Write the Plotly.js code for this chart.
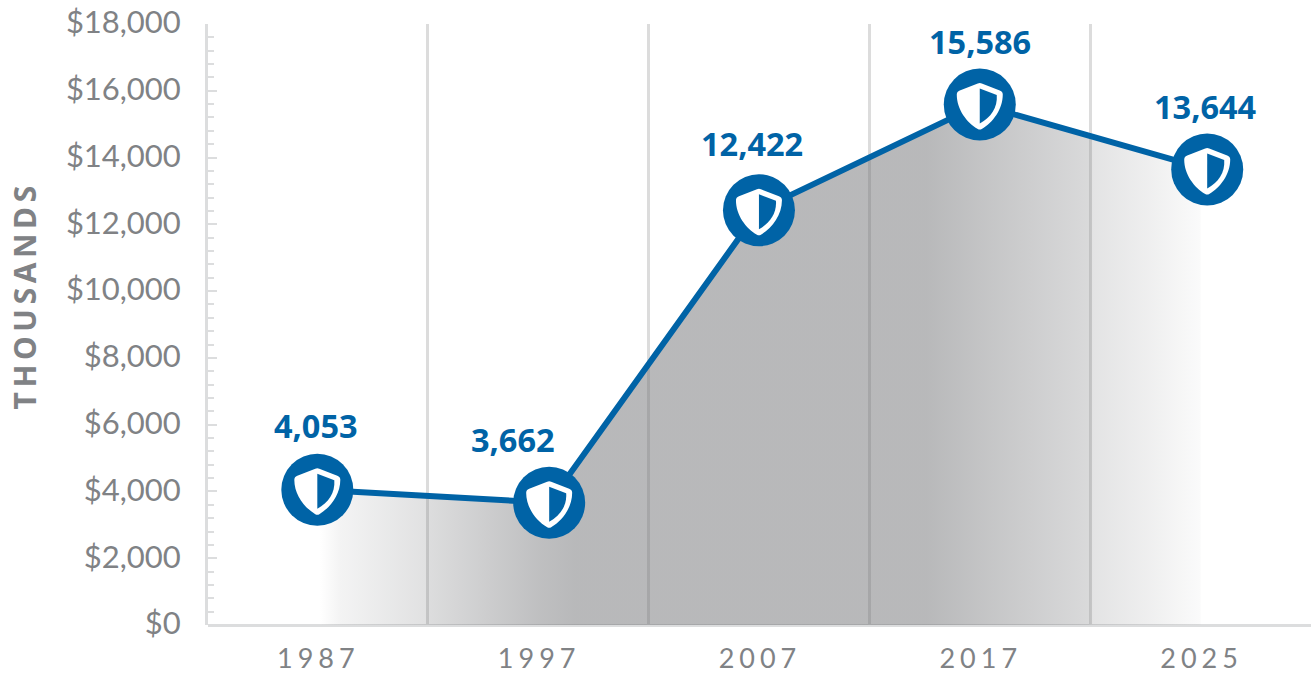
<!DOCTYPE html>
<html>
<head>
<meta charset="utf-8">
<script src="https://cdn.plot.ly/plotly-3.0.1.min.js"></script>
<style>
html,body{margin:0;padding:0;background:#fff;}
#chart{width:1312px;height:679px;}
.xtick text{letter-spacing:5px;translate:1px 0;}
.ytick text{translate:0 -1.5px;}
</style>
</head>
<body>
<div id="chart"></div>
<script>
const categories = ['1987','1997','2007','2017','2025'];
const values = [4053, 3662, 12422, 15586, 13644];
const categoryPos = [0, 1, 2, 3, 4];
const areaPos = [0, 1.05, 2, 3, 4];
const markerPos = [0, 1.05, 2, 3, 4.03];
const bandEdges = [0.5, 1.5, 2.5, 3.5, 4.5];
const yTicks = [0,2000,4000,6000,8000,10000,12000,14000,16000,18000];
const yTickLabels = yTicks.map(v => '$' + v.toLocaleString('en-US'));
const labelShiftX = [-1, -36, -7, 0, -2];
const labelShiftY = [64, 63, 67, 63, 63];

const BLUE = '#0063a6', GREY = '#808285', AXIS = '#dcddde';
const fillStops = [
  [0.003, 0], [0.026, 0.08], [0.094, 0.17], [0.122, 0.205], [0.128, 0.24],
  [0.252, 0.44], [0.292, 0.485], [0.69, 0.485], [0.765, 0.39],
  [0.873, 0.26], [0.878, 0.19], [0.943, 0.11], [1, 0.03]
];

const area = {
  x: areaPos, y: values, type: 'scatter', mode: 'none', fill: 'tozeroy',
  hoverinfo: 'skip', showlegend: false,
  fillgradient: {
    type: 'horizontal', start: 0, stop: 4,
    colorscale: fillStops.map(([p, a]) => [p, 'rgba(109,110,113,' + a + ')'])
  }
};
area.fillgradient.colorscale.unshift([0, 'rgba(109,110,113,0)']);

const line = {
  x: markerPos, y: values, type: 'scatter', mode: 'lines+markers',
  line: {color: BLUE, width: 6},
  marker: {color: BLUE, size: 72, line: {width: 0}},
  showlegend: false,
  hovertemplate: '%{y:,}<extra></extra>'
};

const shield = 'M-2,21 Q0,22 2,21 L20,14 Q23,13 23,10 C23,-5 13,-18 2,-24.5 Q0,-25.5 -2,-24.5 C-13,-18 -23,-5 -23,10 Q-23,13 -20,14 Z';
const shieldHalf = 'M0,16 L17,9.5 C18,-3 11,-13 0,-19 Z';

const shapes = [];
markerPos.forEach((x, i) => {
  [[shield, '#ffffff'], [shieldHalf, BLUE]].forEach(([path, color]) => {
    shapes.push({
      type: 'path', path, layer: 'above',
      xref: 'x', yref: 'y', xsizemode: 'pixel', ysizemode: 'pixel',
      xanchor: x, yanchor: values[i],
      fillcolor: color, line: {width: 0}
    });
  });
});

const annotations = values.map((v, i) => ({
  x: markerPos[i], y: v, xref: 'x', yref: 'y',
  text: v.toLocaleString('en-US'), showarrow: false,
  xshift: labelShiftX[i], yshift: labelShiftY[i],
  font: {family: '"Noto Sans", sans-serif', size: 32.5, weight: 700, color: BLUE}
}));
annotations.push({
  xref: 'paper', yref: 'paper', x: -0.1875, y: 0.549,
  text: 'THOUSANDS', showarrow: false, textangle: -90, captureevents: false,
  font: {family: '"Noto Sans", sans-serif', size: 30, weight: 700, color: GREY}
});

const layout = {
  width: 1312, height: 679,
  paper_bgcolor: '#ffffff', plot_bgcolor: '#ffffff',
  margin: {l: 208, r: 1, t: 24, b: 54, pad: 0},
  showlegend: false, hovermode: 'closest',
  font: {family: 'Lato, sans-serif', color: GREY},
  xaxis: {
    type: 'linear', range: [-0.495, 4.5],
    tickmode: 'array', tickvals: categoryPos, ticktext: categories,
    ticks: '', showgrid: false, zeroline: false,
    showline: false,
    ticklabelstandoff: 15,
    tickfont: {family: 'Lato, sans-serif', size: 27, color: GREY},
    minor: {tickmode: 'array', tickvals: bandEdges, showgrid: true, gridcolor: '#dcdcdc', gridwidth: 3, griddash: 'solid', ticks: ''}
  },
  yaxis: {
    range: [0, 18000],
    tickmode: 'array', tickvals: yTicks, ticktext: yTickLabels,
    ticks: 'inside', ticklen: 9, tickwidth: 2, tickcolor: AXIS,
    showgrid: false, zeroline: true, zerolinecolor: AXIS, zerolinewidth: 3,
    showline: true, linecolor: AXIS, linewidth: 3,
    ticklabelstandoff: 18,
    tickfont: {family: 'Lato, sans-serif', size: 31, color: GREY},
    minor: {dtick: 400, ticks: 'inside', ticklen: 6, tickwidth: 2, tickcolor: AXIS, showgrid: false}
  },
  shapes, annotations
};

Plotly.newPlot('chart', [area, line], layout, {displayModeBar: false, staticPlot: true}).then(() => {
  document.querySelectorAll('.annotation text').forEach(t => {
    if (t.textContent === 'THOUSANDS') t.style.letterSpacing = '4.6px';
  });
});
</script>
</body>
</html>
